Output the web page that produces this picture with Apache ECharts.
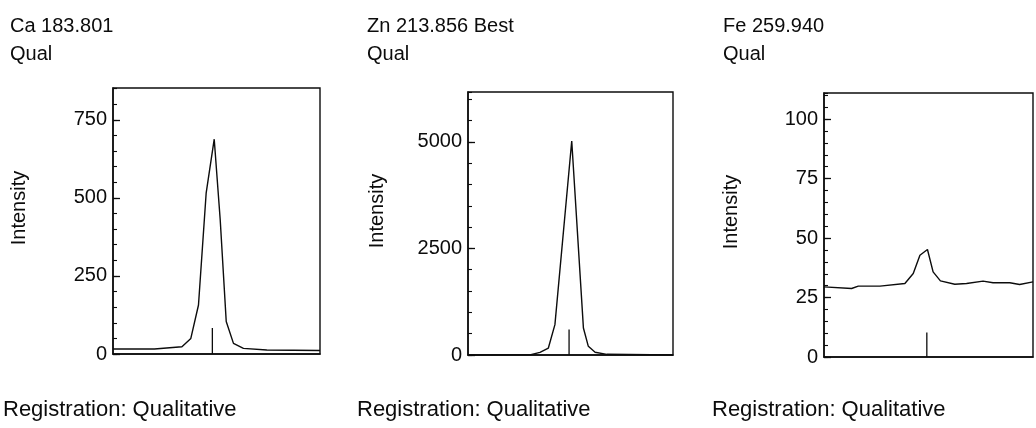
<!DOCTYPE html>
<html>
<head>
<meta charset="utf-8">
<script src="https://cdn.jsdelivr.net/npm/echarts@6/dist/echarts.min.js"></script>
<style>
  html, body { margin: 0; padding: 0; background: #fff; }
  #chart { width: 1036px; height: 428px; }
</style>
</head>
<body>
<div id="chart"></div>
<script>
// Emission line scans: relative position across the scan window (0–100) and intensity.
const titles = ['Ca 183.801', 'Zn 213.856 Best', 'Fe 259.940'];
const subtitle = 'Qual';
const footer = 'Registration: Qualitative';
const yName = 'Intensity';

const caPos = [0, 20, 33.3, 37.6, 41.3, 45.0, 48.9, 51.8, 54.7, 58.2, 63.0, 74.3, 100];
const caInt = [16, 16, 23, 50, 157, 515, 688, 429, 104, 34, 18, 13, 11];

const znPos = [0, 30.2, 35.1, 39.2, 42.4, 50.6, 56.3, 58.7, 62.0, 67.7, 100];
const znInt = [0, 2, 63, 164, 712, 5020, 634, 203, 63, 16, 0];

const fePos = [0, 13.2, 16.4, 26.8, 38.7, 42.7, 45.9, 49.5, 52.2, 55.7, 62.6, 68.2, 76.1, 80.9, 88.9, 93.6, 100];
const feInt = [29.5, 28.8, 29.8, 29.8, 30.9, 35.1, 42.8, 45.2, 35.8, 32.0, 30.6, 30.9, 31.9, 31.2, 31.2, 30.5, 31.6];

// Expected line position marker (position, height)
const markerPos = [48.0, 49.3, 49.2];
const markerHeight = [83, 600, 10.3];

// Intensity axis ranges and tick steps
const yMax = [852, 6170, 111];
const yMajor = [250, 2500, 25];
const yMinor = [50, 500, 5];

const panels = [
  { pos: caPos, val: caInt },
  { pos: znPos, val: znInt },
  { pos: fePos, val: feInt }
];

const gridBoxes = [
  { left: 113, top: 88, width: 207, height: 266 },
  { left: 468, top: 92, width: 205, height: 263 },
  { left: 824, top: 93, width: 209, height: 264 }
];
const titleX = [10, 367, 723];
const footerX = [3, 357, 712];
const yNameX = [19, 377, 731];
const yNameY = [208, 211, 212];

const ink = '#0c0c0c';
const font = '"Liberation Sans", Arial, Helvetica, sans-serif';

const grid = [], xAxis = [], yAxis = [], series = [], graphic = [];

panels.forEach((p, i) => {
  grid.push(Object.assign({
    show: true, borderColor: ink, borderWidth: 1.4, backgroundColor: 'transparent'
  }, gridBoxes[i]));

  xAxis.push({
    type: 'value', gridIndex: i, min: 0, max: 100,
    axisLine: { show: true, lineStyle: { color: ink, width: 1.5 } },
    axisTick: { show: false }, axisLabel: { show: false }, splitLine: { show: false }
  });

  // labelled axis with the long ticks
  yAxis.push({
    type: 'value', gridIndex: i, position: 'left', min: 0, max: yMax[i], interval: yMajor[i],
    axisLine: { show: true, lineStyle: { color: ink, width: 1.5 } },
    axisTick: { show: true, inside: true, length: 7, lineStyle: { color: ink, width: 1.3 } },
    axisLabel: {
      show: true, showMaxLabel: false, margin: 6, color: ink,
      fontFamily: font, fontSize: 20,
      formatter: v => String(v)
    },
    splitLine: { show: false }
  });
  // short ticks only
  yAxis.push({
    type: 'value', gridIndex: i, position: 'left', offset: 0,
    min: 0, max: yMax[i], interval: yMinor[i],
    axisLine: { show: false },
    axisTick: { show: true, inside: true, length: 4, lineStyle: { color: ink, width: 1.1 } },
    axisLabel: { show: false }, splitLine: { show: false }
  });

  series.push({
    type: 'line', xAxisIndex: i, yAxisIndex: i * 2,
    data: p.pos.map((x, k) => [x, p.val[k]]),
    showSymbol: false, symbol: 'none', smooth: false,
    lineStyle: { color: ink, width: 1.4 }, animation: false, silent: true
  });
  series.push({
    type: 'line', xAxisIndex: i, yAxisIndex: i * 2,
    data: [[markerPos[i], 0], [markerPos[i], markerHeight[i]]],
    showSymbol: false, symbol: 'none',
    lineStyle: { color: ink, width: 1.3 }, animation: false, silent: true
  });

  graphic.push({
    type: 'text', left: titleX[i], top: 12,
    style: { text: titles[i] + '\n' + subtitle, fill: ink, font: '20px ' + font, lineHeight: 28.5 }
  });
  graphic.push({
    type: 'text', x: yNameX[i], y: yNameY[i], rotation: Math.PI / 2,
    style: { text: yName, fill: ink, font: '20px ' + font, align: 'center', verticalAlign: 'middle' }
  });
  graphic.push({
    type: 'text', left: footerX[i], top: 399,
    style: { text: footer, fill: ink, font: '22px ' + font }
  });
});

const chart = echarts.init(document.getElementById('chart'), null, { renderer: 'canvas' });
chart.setOption({
  backgroundColor: '#fff',
  animation: false,
  grid, xAxis, yAxis, series, graphic
});
</script>
</body>
</html>
